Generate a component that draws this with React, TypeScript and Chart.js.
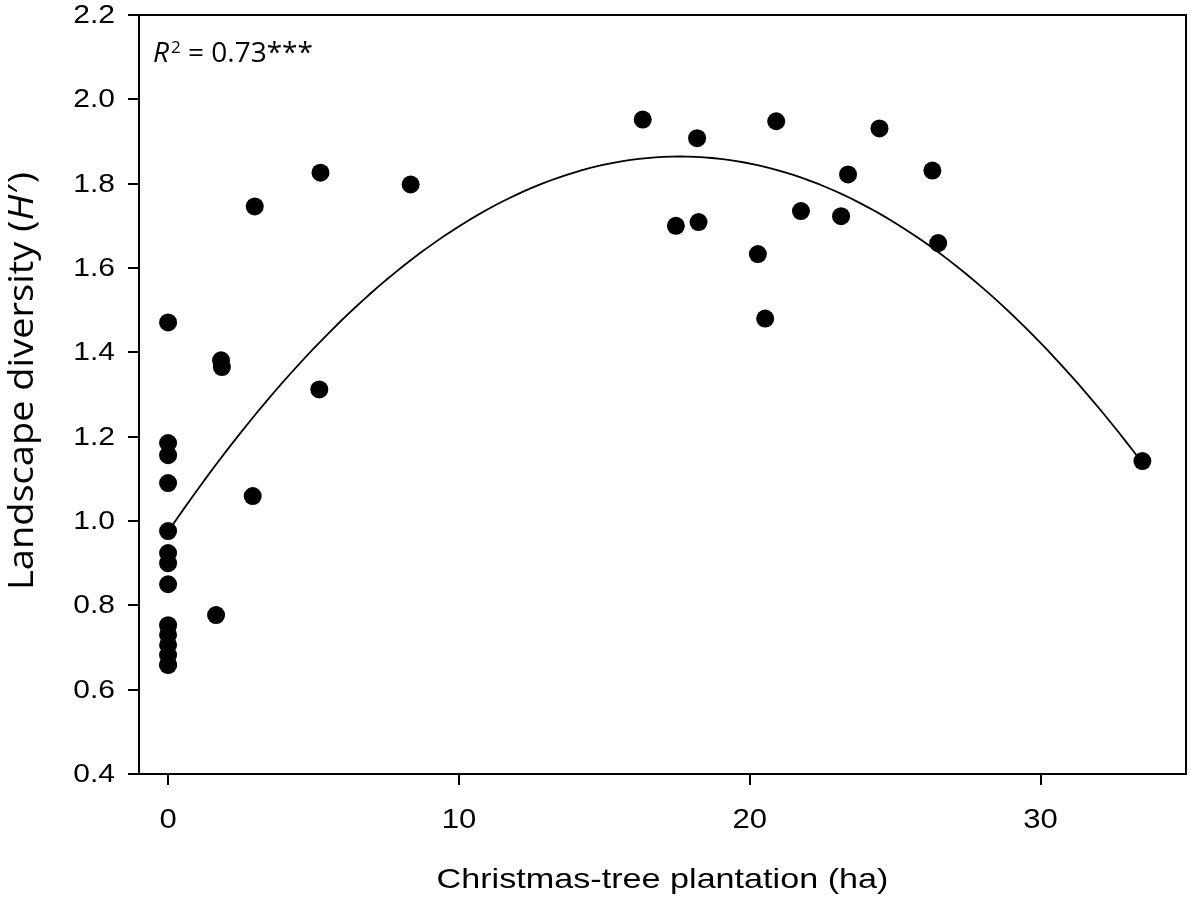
import React, { useEffect, useRef } from "react";
import { Chart, registerables } from "chart.js";

Chart.register(...registerables);

// Observed data: Christmas-tree plantation area (ha) vs landscape diversity (H')
const plantationHa: number[] = [
  0, 0, 0, 0, 0, 0, 0, 0, 0, 0, 0, 0, 0, 0,
  1.65, 1.82, 1.85, 2.91, 2.98, 5.2, 5.24, 8.34,
  16.32, 17.46, 18.19, 18.24, 20.28, 20.53, 20.91, 21.76,
  23.14, 23.38, 24.46, 26.28, 26.48, 33.5,
];
const diversityH: number[] = [
  1.471, 1.185, 1.156, 1.09, 0.976, 0.924, 0.9, 0.85, 0.753, 0.73, 0.706, 0.682, 0.659, 0.659,
  0.777, 1.381, 1.365, 1.059, 1.746, 1.312, 1.826, 1.798,
  1.952, 1.7, 1.908, 1.709, 1.633, 1.48, 1.948, 1.735,
  1.723, 1.822, 1.931, 1.831, 1.659, 1.142,
];

// Quadratic regression fit (y = a + b x + c x^2), drawn over the observed x-range
const fitA = 0.975;
const fitB = 0.1011;
const fitC = -0.002873;
const fitXMin = 0;
const fitXMax = 33.5;

const xTicks: number[] = [0, 10, 20, 30];
const yTicks: number[] = [0.4, 0.6, 0.8, 1.0, 1.2, 1.4, 1.6, 1.8, 2.0, 2.2];
const xTickLabels: string[] = ["0", "10", "20", "30"];
const yTickLabels: string[] = ["0.4", "0.6", "0.8", "1.0", "1.2", "1.4", "1.6", "1.8", "2.0", "2.2"];

const xTitle = "Christmas-tree plantation (ha)";
const yTitleMain = "Landscape diversity (";
const yTitleItalic = "H\u2032";
const yTitleEnd = ")";
const r2Label = "R";
const r2Sup = "2";
const r2Rest = " = 0.73***";

const W = 1195;
const H = 905;

export default function App() {
  const ref = useRef<HTMLCanvasElement | null>(null);

  useEffect(() => {
    if (!ref.current) return;
    const points = plantationHa.map((x, i) => ({ x, y: diversityH[i] }));
    const curve: { x: number; y: number }[] = [];
    const n = 120;
    for (let i = 0; i <= n; i++) {
      const x = fitXMin + ((fitXMax - fitXMin) * i) / n;
      curve.push({ x, y: fitA + fitB * x + fitC * x * x });
    }

    const ARIAL = '"Liberation Sans", Arial, sans-serif';
    const HUMAN = '"Open Sans", sans-serif';

    const stretched = (
      ctx: CanvasRenderingContext2D,
      text: string,
      x: number,
      y: number,
      sx: number,
      align: CanvasTextAlign,
      baseline: CanvasTextBaseline
    ) => {
      ctx.save();
      ctx.translate(x, y);
      ctx.scale(sx, 1);
      ctx.textAlign = align;
      ctx.textBaseline = baseline;
      ctx.fillText(text, 0, 0);
      ctx.restore();
    };

    const decor = {
      id: "decor",
      afterDraw(chart: any) {
        const { ctx, chartArea } = chart;
        const xs = chart.scales.x;
        const ys = chart.scales.y;
        ctx.save();
        // box
        ctx.strokeStyle = "#000";
        ctx.lineWidth = 2;
        ctx.strokeRect(chartArea.left, chartArea.top, chartArea.right - chartArea.left, chartArea.bottom - chartArea.top);
        ctx.fillStyle = "#000";

        // tick labels
        ctx.font = `25px ${ARIAL}`;
        yTicks.forEach((v, i) => {
          const py = ys.getPixelForValue(v);
          stretched(ctx, yTickLabels[i], 115, py + 1, 1.2, "right", "middle");
        });
        ctx.font = `27px ${ARIAL}`;
        xTicks.forEach((v, i) => {
          const px = xs.getPixelForValue(v);
          stretched(ctx, xTickLabels[i], px, 828, 1.15, "center", "alphabetic");
        });

        // x title
        ctx.font = `28px ${ARIAL}`;
        stretched(ctx, xTitle, (chartArea.left + chartArea.right) / 2, 888, 1.22, "center", "alphabetic");

        // y title (rotated)
        const fMain = `34px ${HUMAN}`;
        const fItal = `italic 34px ${HUMAN}`;
        ctx.font = fMain;
        const w1 = ctx.measureText(yTitleMain).width;
        const w3 = ctx.measureText(yTitleEnd).width;
        ctx.font = fItal;
        const w2 = ctx.measureText(yTitleItalic).width + 3;
        const total = w1 + w2 + w3;
        const targetLen = 418;
        const sx = targetLen / total;
        ctx.save();
        ctx.translate(33, 381);
        ctx.rotate(-Math.PI / 2);
        ctx.scale(sx, 1);
        ctx.textAlign = "left";
        ctx.textBaseline = "alphabetic";
        let x0 = -total / 2;
        ctx.font = fMain;
        ctx.fillText(yTitleMain, x0, 0);
        x0 += w1;
        ctx.font = fItal;
        ctx.fillText(yTitleItalic, x0, 0);
        x0 += w2;
        ctx.font = fMain;
        ctx.fillText(yTitleEnd, x0, 0);
        ctx.restore();

        // R^2 annotation
        let rx = 153;
        const by = 62;
        ctx.textAlign = "left";
        ctx.textBaseline = "alphabetic";
        ctx.font = `italic 28px ${HUMAN}`;
        ctx.fillText(r2Label, rx, by);
        rx += ctx.measureText(r2Label).width + 2;
        ctx.font = `17px ${HUMAN}`;
        ctx.fillText(r2Sup, rx, by - 9);
        rx += ctx.measureText(r2Sup).width;
        ctx.font = `28px ${HUMAN}`;
        ctx.fillText(r2Rest, rx, by);
        ctx.restore();
      },
    };

    const chart = new Chart(ref.current, {
      type: "scatter",
      data: {
        datasets: [
          {
            type: "scatter",
            data: points,
            pointRadius: 9,
            pointHoverRadius: 9,
            pointBackgroundColor: "#000",
            pointBorderColor: "#000",
            pointBorderWidth: 0,
            order: 1,
          } as any,
          {
            type: "line",
            data: curve,
            borderColor: "#000",
            borderWidth: 1.8,
            pointRadius: 0,
            fill: false,
            tension: 0,
            order: 2,
          } as any,
        ],
      },
      options: {
        animation: false,
        responsive: false,
        maintainAspectRatio: false,
        layout: { padding: { top: 15, right: 2, left: 0, bottom: 0 } },
        plugins: { legend: { display: false }, tooltip: { enabled: false } },
        scales: {
          x: {
            type: "linear",
            min: -1,
            max: 35,
            afterBuildTicks: (s: any) => {
              s.ticks = xTicks.map((v) => ({ value: v }));
            },
            afterFit: (s: any) => {
              s.height = H - 774;
            },
            grid: {
              drawOnChartArea: false,
              drawTicks: true,
              tickLength: 11,
              color: "#000",
              lineWidth: 2,
            },
            border: { display: true, color: "#000", width: 2 },
            ticks: { display: false },
          },
          y: {
            type: "linear",
            min: 0.4,
            max: 2.2,
            afterBuildTicks: (s: any) => {
              s.ticks = yTicks.map((v) => ({ value: v }));
            },
            afterFit: (s: any) => {
              s.width = 139;
            },
            grid: {
              drawOnChartArea: false,
              drawTicks: true,
              tickLength: 11,
              color: "#000",
              lineWidth: 2,
            },
            border: { display: true, color: "#000", width: 2 },
            ticks: { display: false },
          },
        },
      },
      plugins: [decor],
    });
    return () => chart.destroy();
  }, []);

  return (
    <div style={{ position: "fixed", left: 0, top: 0, width: W, height: H, background: "#fff" }}>
      <canvas ref={ref} width={W} height={H} style={{ display: "block", width: W, height: H }} />
    </div>
  );
}
